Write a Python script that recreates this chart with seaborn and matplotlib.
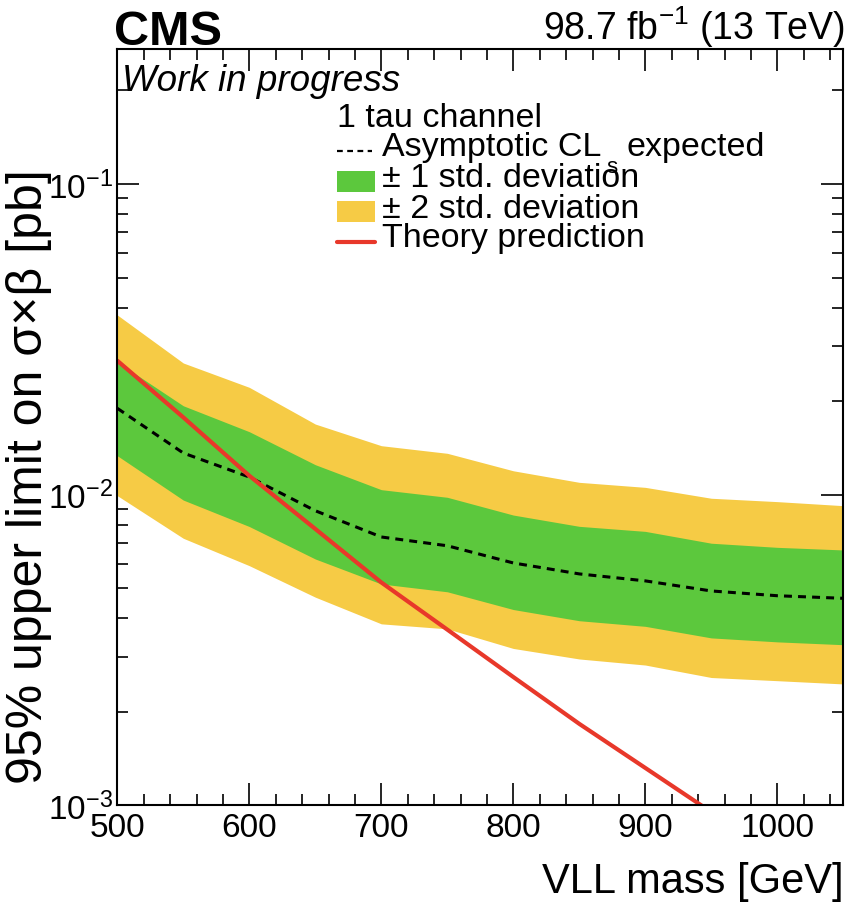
import numpy as np
import pandas as pd
import matplotlib
matplotlib.use("Agg")
import matplotlib.pyplot as plt
import seaborn as sns
from matplotlib.ticker import MultipleLocator, LogLocator, NullFormatter, LogFormatterSciNotation
from matplotlib.patches import Rectangle
from matplotlib.lines import Line2D

# VLL mass points [GeV]
mass = [500, 550, 600, 650, 700, 750, 800, 850, 900, 950, 1000, 1050]
# expected 95% CL upper limits [pb]
exp_median = [0.01897, 0.01362, 0.01140, 0.00888, 0.00731, 0.00685,
              0.00603, 0.00556, 0.00528, 0.00490, 0.00473, 0.00464]
exp_plus1 = [0.02675, 0.01933, 0.01595, 0.01249, 0.01038, 0.00981,
             0.00860, 0.00791, 0.00762, 0.00698, 0.00677, 0.00664]
exp_minus1 = [0.01335, 0.00961, 0.00790, 0.00621, 0.00516, 0.00487,
              0.00427, 0.00393, 0.00377, 0.00346, 0.00336, 0.00329]
exp_plus2 = [0.03789, 0.02654, 0.02216, 0.01688, 0.01438, 0.01359,
             0.01194, 0.01096, 0.01056, 0.00974, 0.00950, 0.00922]
exp_minus2 = [0.00993, 0.00724, 0.00591, 0.00468, 0.00384, 0.00370,
              0.00320, 0.00296, 0.00283, 0.00258, 0.00252, 0.00246]
# theory cross section [pb]
theory_mass = [500, 550, 600, 650, 700, 750, 800, 850, 900, 950]
theory_xsec = [0.0270, 0.01774, 0.01151, 0.00776, 0.00522, 0.00368,
               0.00259, 0.00183, 0.00132, 0.000952]

x_ticks = [500, 600, 700, 800, 900, 1000]

GREEN = "#5cc83d"
YELLOW = "#f6cb45"
RED = "#e8382a"
DASH = (0, (2.6, 2.0))

sns.set_theme(style="ticks")
plt.rcParams["font.family"] = ["Liberation Sans", "DejaVu Sans"]
plt.rcParams["mathtext.default"] = "regular"
for key in ("text.color", "axes.labelcolor", "xtick.color", "ytick.color", "axes.edgecolor"):
    plt.rcParams[key] = "black"

W, H = 851, 904
fig = plt.figure(figsize=(W / 100, H / 100), dpi=100)
ax = fig.add_axes([117.3 / W, 1 - 806.4 / H, (843.3 - 117.3) / W, (806.4 - 50) / H])

df = pd.DataFrame({"mass": mass, "median": exp_median,
                   "p1": exp_plus1, "m1": exp_minus1,
                   "p2": exp_plus2, "m2": exp_minus2})
th = pd.DataFrame({"mass": theory_mass, "xsec": theory_xsec})

ax.fill_between(df["mass"], df["m2"], df["p2"], color=YELLOW, lw=0)
ax.fill_between(df["mass"], df["m1"], df["p1"], color=GREEN, lw=0)
sns.lineplot(data=df, x="mass", y="median", ax=ax, color="black",
             lw=2.2, linestyle=DASH, errorbar=None)
sns.lineplot(data=th, x="mass", y="xsec", ax=ax, color=RED,
             lw=3.0, errorbar=None)

ax.set_yscale("log")
ax.set_xlim(500, 1050)
ax.set_ylim(1e-3, 0.272)
ax.xaxis.set_major_locator(plt.FixedLocator(x_ticks))
ax.xaxis.set_minor_locator(MultipleLocator(20))
ax.yaxis.set_major_locator(LogLocator(base=10, numticks=10))
ax.yaxis.set_major_formatter(LogFormatterSciNotation())
ax.yaxis.set_minor_locator(LogLocator(base=10, subs=np.arange(2, 10), numticks=20))
ax.yaxis.set_minor_formatter(NullFormatter())
ax.tick_params(which="both", direction="in", top=True, right=True,
               color="black", width=1.2, labelsize=24, labelcolor="black")
ax.tick_params(which="major", length=15.8)
ax.tick_params(which="minor", length=7.9)
ax.tick_params(axis="x", pad=5)
ax.tick_params(axis="y", pad=3)
for s in ax.spines.values():
    s.set_linewidth(1.5)
    s.set_color("black")
ax.grid(False)

ax.set_xlabel("VLL mass [GeV]", fontsize=30, loc="right", color="black")
ax.xaxis.set_label_coords(1.0, -0.073)
ax.set_ylabel("95% upper limit on σ×β [pb]", fontsize=36, loc="top", color="black")
ax.yaxis.set_label_coords(-0.090, 0.842)


def fx(x):
    return x / W


def fy(y):
    return 1 - y / H


fig.text(fx(114), fy(45), "CMS", fontsize=35, fontweight="bold", ha="left", va="baseline")
fig.text(fx(845), fy(39.5), "98.7 fb$^{-1}$ (13 TeV)", fontsize=27, ha="right", va="baseline")
fig.text(fx(122), fy(91), "Work in progress", fontsize=26.5, style="italic", ha="left", va="baseline")

# legend block
LEG_FS = 24.5
fig.text(fx(337), fy(127.3), "1 tau channel", fontsize=LEG_FS, ha="left", va="baseline")
fig.add_artist(Line2D([fx(337), fx(372)], [fy(151.7), fy(151.7)], transform=fig.transFigure,
                      color="black", lw=1.6, linestyle=DASH))
fig.text(fx(382), fy(155.7), "Asymptotic CL", fontsize=LEG_FS, ha="left", va="baseline")
fig.text(fx(606), fy(173), "s", fontsize=16, ha="left", va="baseline")
fig.text(fx(627), fy(155.7), "expected", fontsize=LEG_FS, ha="left", va="baseline")
fig.add_artist(Rectangle((fx(337), fy(192.7)), 38 / W, 21 / H, transform=fig.transFigure,
                         facecolor=GREEN, edgecolor="none"))
fig.text(fx(382), fy(186.7), "± 1 std. deviation", fontsize=LEG_FS, ha="left", va="baseline")
fig.add_artist(Rectangle((fx(337), fy(223.3)), 38 / W, 21.6 / H, transform=fig.transFigure,
                         facecolor=YELLOW, edgecolor="none"))
fig.text(fx(382), fy(218.3), "± 2 std. deviation", fontsize=LEG_FS, ha="left", va="baseline")
fig.add_artist(Line2D([fx(337), fx(375)], [fy(243.3), fy(243.3)], transform=fig.transFigure,
                      color=RED, lw=3.0))
fig.text(fx(382), fy(246.7), "Theory prediction", fontsize=LEG_FS, ha="left", va="baseline")

fig.savefig("out.png", dpi=100)
